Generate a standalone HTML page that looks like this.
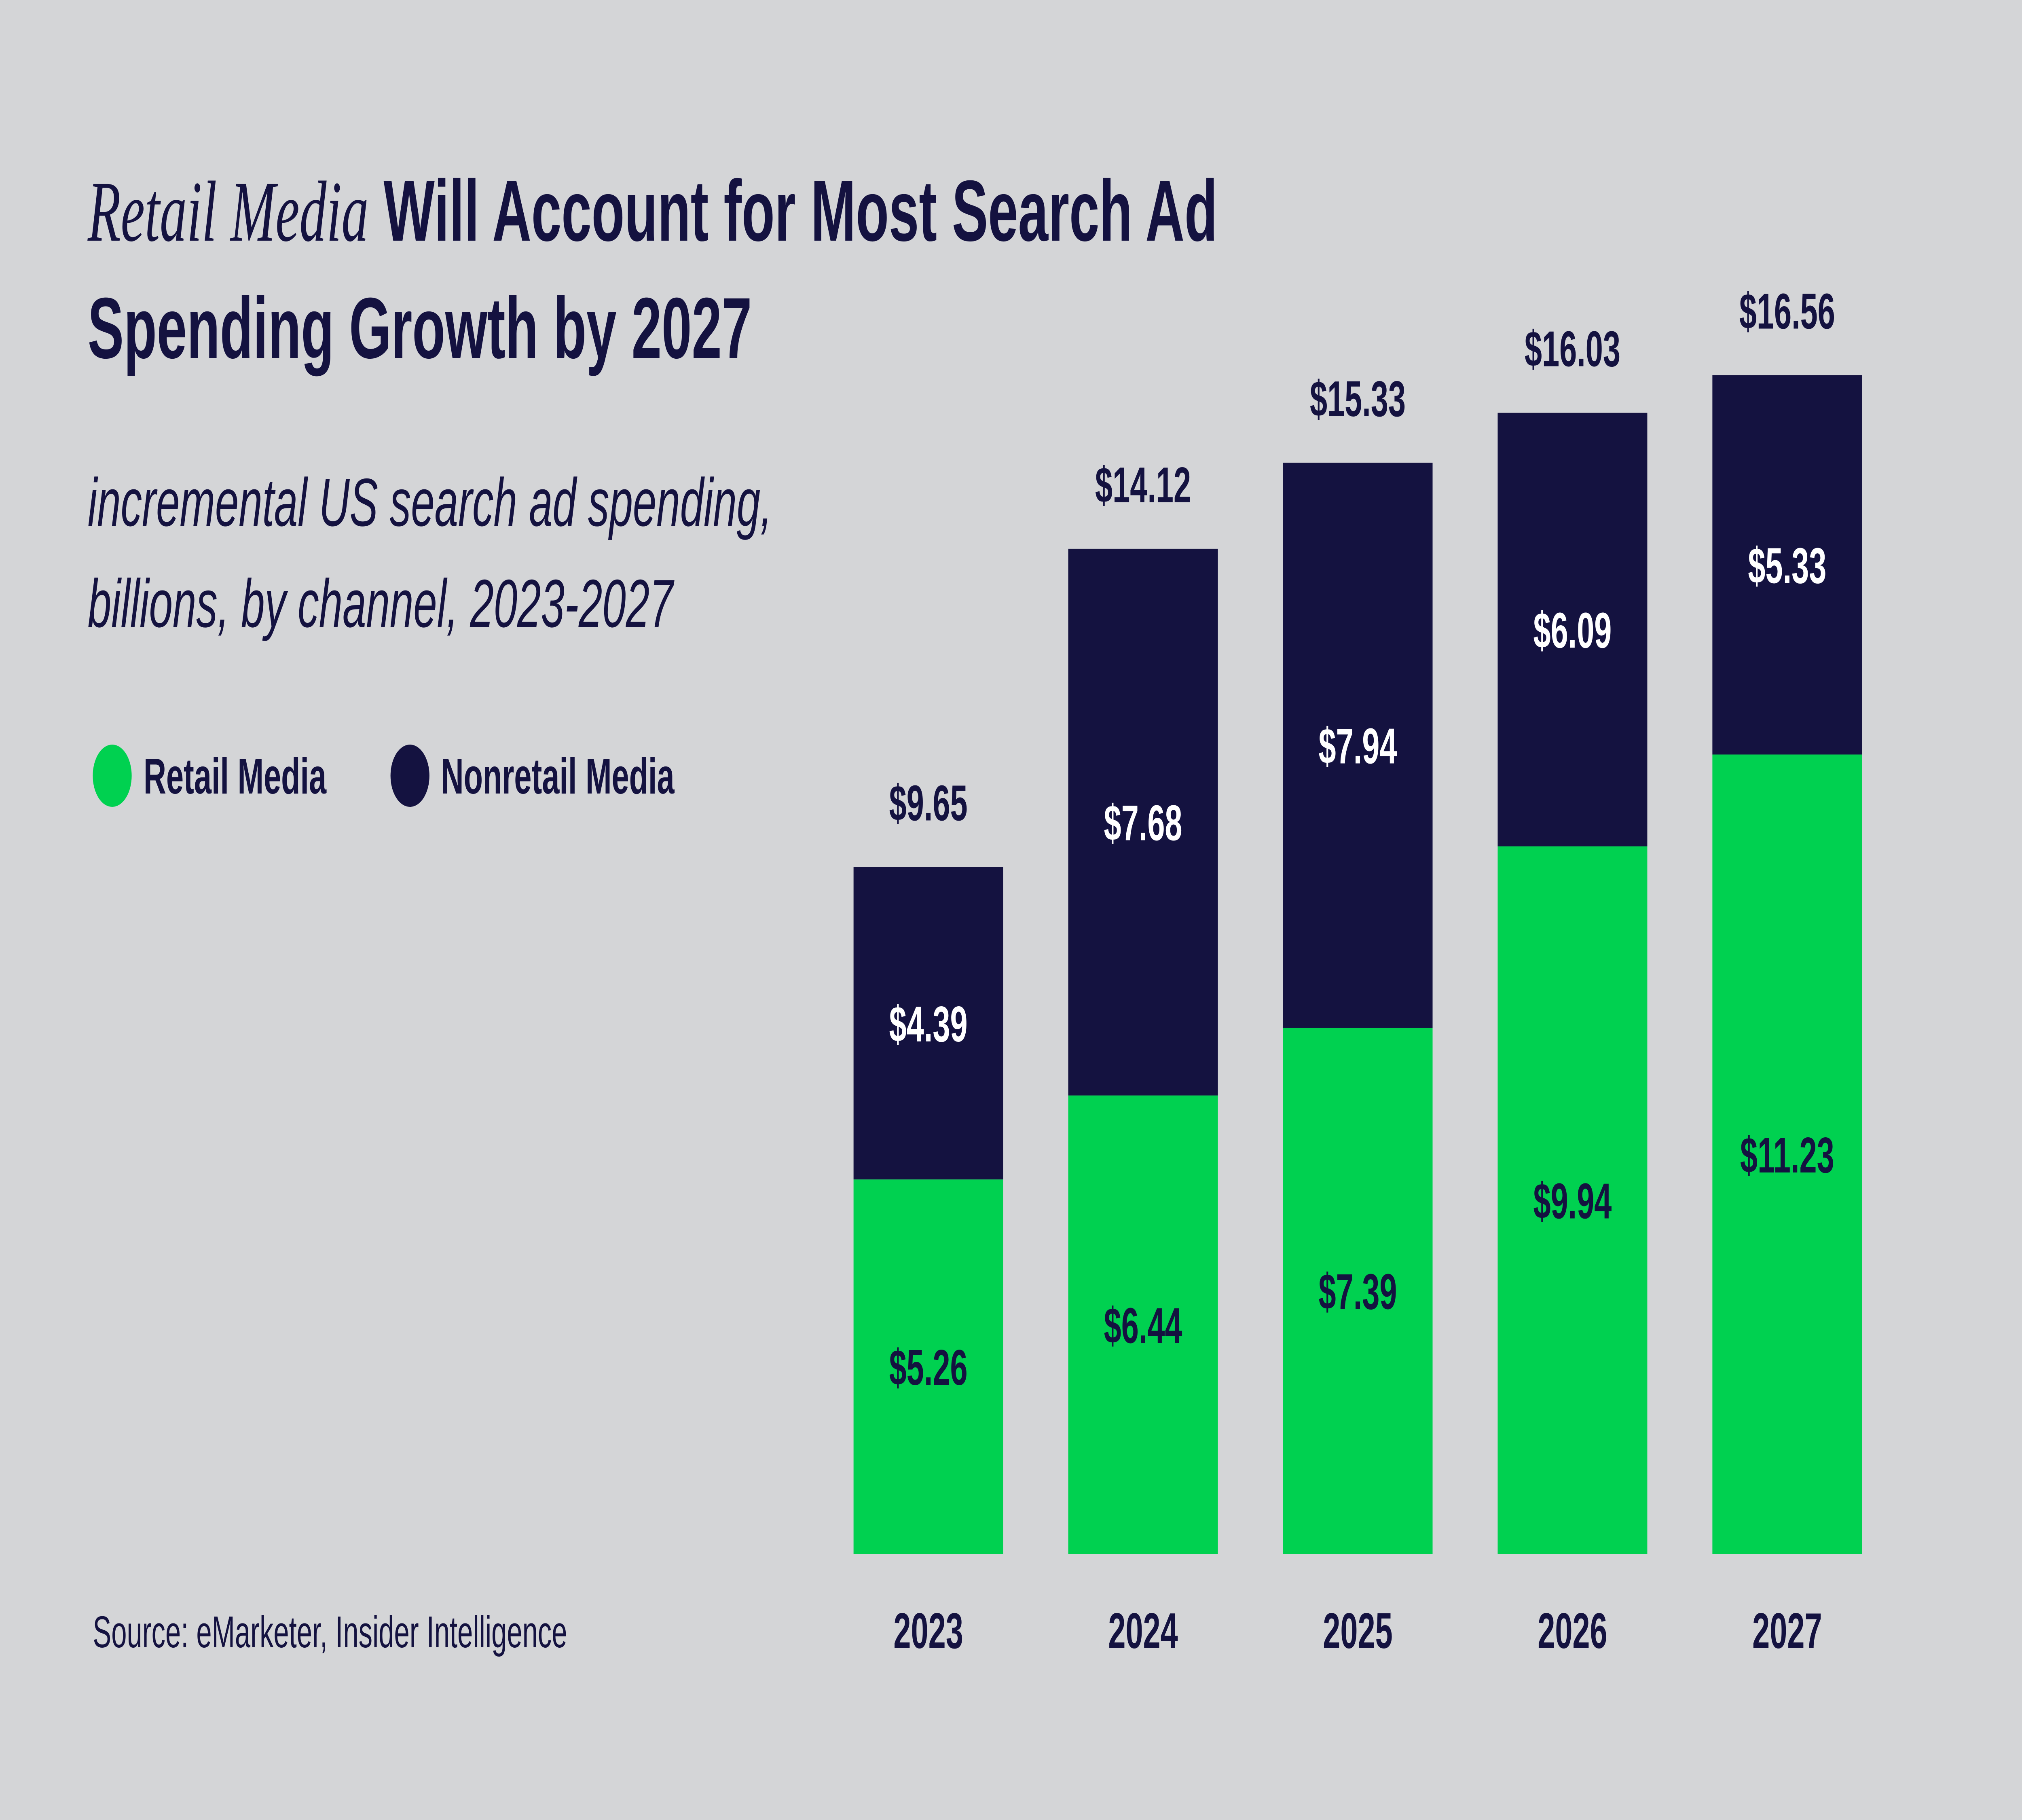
<!DOCTYPE html>
<html><head><meta charset="utf-8"><style>
html,body{margin:0;padding:0;background:#d4d5d7;width:100%;height:100%;overflow:hidden;}
svg{display:block;position:fixed;left:0;top:0;width:100vw;height:100vh;}
text{font-family:"Liberation Sans",sans-serif;}
</style></head><body>
<svg id="chart" viewBox="0 0 8000 4500" preserveAspectRatio="none" xmlns="http://www.w3.org/2000/svg">
<rect width="8000" height="4500" fill="#d4d5d7"/>
<text x="347" y="595" font-size="214" fill="#141240" font-weight="bold"><tspan font-family="Liberation Serif" font-style="italic" font-weight="normal">Retail Media</tspan> Will Account for Most Search Ad</text>
<text x="347" y="885" font-size="214" fill="#141240" font-weight="bold">Spending Growth by 2027</text>
<text x="347" y="1300" font-size="168" fill="#141240" font-style="italic">incremental US search ad spending,</text>
<text x="347" y="1550" font-size="168" fill="#141240" font-style="italic">billions, by channel, 2023-2027</text>
<g>
<circle cx="444" cy="1918" r="77" fill="#00d150"/>
<text x="568" y="1962" font-size="124" font-weight="bold" fill="#141240">Retail Media</text>
<circle cx="1622" cy="1918" r="77" fill="#141240"/>
<text x="1745" y="1962" font-size="124" font-weight="bold" fill="#141240">Nonretail Media</text>
</g>
<text x="367" y="4073" font-size="110" fill="#141240">Source: eMarketer, Insider Intelligence</text>
<g id="bars"></g>
</svg>
<script>
const years = ["2023","2024","2025","2026","2027"];
const retail = [5.26, 6.44, 7.39, 9.94, 11.23];
const nonretail = [4.39, 7.68, 7.94, 6.09, 5.33];
const totals = [9.65, 14.12, 15.33, 16.03, 16.56];

const NS = "http://www.w3.org/2000/svg";
const g = document.getElementById("bars");
const baseY = 3842, pxPerUnit = 176, x0 = 3673, step = 849.5, barW = 592;
const xc = i => x0 + i * step;
const y = v => baseY - v * pxPerUnit;
function mk(tag, attrs, txt){
  const e = document.createElementNS(NS, tag);
  for (const k in attrs) e.setAttribute(k, attrs[k]);
  if (txt !== undefined) e.textContent = txt;
  g.appendChild(e); return e;
}
const fmt = v => "$" + v.toFixed(2);
years.forEach((yr, i) => {
  const c = xc(i);
  const r = mk("rect", {x: c - barW/2, y: y(retail[i]), width: barW, height: baseY - y(retail[i]), fill: "#00d150"});
  
  
  const top = retail[i] + nonretail[i];
  const n = mk("rect", {x: c - barW/2, y: y(top), width: barW, height: y(retail[i]) - y(top), fill: "#141240"});
  
  
  const t1 = mk("text", {x: c, y: (y(0) + y(retail[i]))/2 + 45, "font-size": 124, "font-weight": "bold", fill: "#141240", "text-anchor": "middle"}, fmt(retail[i]));
  
  
  const t2 = mk("text", {x: c, y: (y(retail[i]) + y(top))/2 + 45, "font-size": 124, "font-weight": "bold", fill: "#ffffff", "text-anchor": "middle"}, fmt(nonretail[i]));
  
  
  const t3 = mk("text", {x: c, y: y(totals[i]) - 115, "font-size": 124, "font-weight": "bold", fill: "#141240", "text-anchor": "middle"}, fmt(totals[i]));
  
  
  const t4 = mk("text", {x: c, y: 4075, "font-size": 124, "font-weight": "bold", fill: "#141240", "text-anchor": "middle"}, yr);
  
  
});
</script>
</body></html>
